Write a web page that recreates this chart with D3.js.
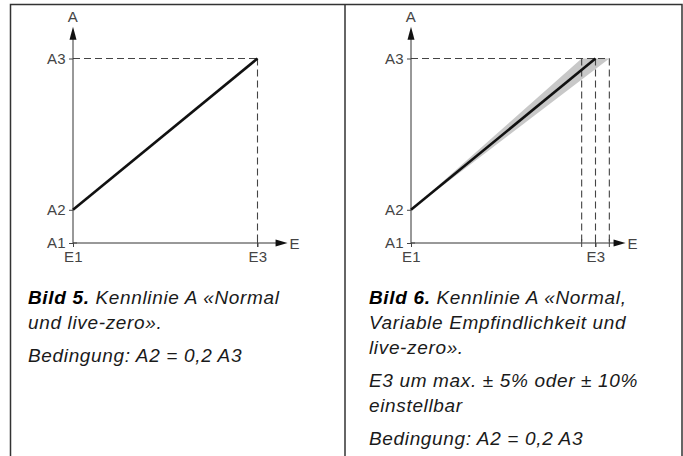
<!DOCTYPE html>
<html><head><meta charset="utf-8">
<script src="https://cdn.jsdelivr.net/npm/d3@7"></script>
<style>
html,body{margin:0;padding:0;background:#fff;}
svg{display:block;}
</style></head>
<body>
<svg id="chart" width="683" height="456"></svg>
<script>
// ---- data ----
const yTickLabels = ["A1", "A2", "A3"];
const yTickValues = [0, 0.18, 1];
const xTickLabels = ["E1", "E3"];
const xTickValues = [0, 1];
const lineX = [0, 1];
const lineY = [0.18, 1];
const e3Variants = [0.925, 1, 1.075];
const bandTop = [0.925, 1.075];
const captions1 = [
  [{b:"Bild 5.", t:" Kennlinie A «Normal"}, {t:"und live-zero»."}],
  [{t:"Bedingung: A2 = 0,2 A3"}]
];
const captions2 = [
  [{b:"Bild 6.", t:" Kennlinie A «Normal,"}, {t:"Variable Empfindlichkeit und"}, {t:"live-zero»."}],
  [{t:"E3 um max. ± 5% oder ± 10%"}, {t:"einstellbar"}],
  [{t:"Bedingung: A2 = 0,2 A3"}]
];

const svg = d3.select("#chart");
const font = "'Liberation Sans', Arial, Helvetica, sans-serif";

// frame
const frame = svg.append("g").attr("fill","none").attr("stroke","#333").attr("stroke-width",1.5);
frame.append("path").attr("d","M10.5,456 V4.5 H682 V456");
frame.append("path").attr("d","M345,4.5 V456");

function panel(x0, variable, caps, capX) {
  const x = d3.scaleLinear().domain([0, 1]).range([x0, x0 + 184.5]);
  const y = d3.scaleLinear().domain([0, 1]).range([243, 58.5]);
  const g = svg.append("g");
  const xEnd = x(1.163), yEnd = y(1.172);

  // band
  if (variable) {
    const area = [[0, lineY[0]], [bandTop[0], 1], [bandTop[1], 1]];
    g.append("path")
      .attr("d", d3.line().x(d => x(d[0])).y(d => y(d[1]))(area) + "Z")
      .attr("fill", "#c8c8c8");
  }
  // dashed guides
  const xs = variable ? e3Variants : [1];
  const dash = g.append("g").attr("stroke","#444").attr("stroke-width",1.1).attr("stroke-dasharray","7,4").attr("fill","none");
  dash.append("line").attr("x1", x(0)).attr("x2", x(d3.max(xs))).attr("y1", y(1)).attr("y2", y(1));
  xs.forEach(v => dash.append("line").attr("x1", x(v)).attr("x2", x(v)).attr("y1", y(1)).attr("y2", y(0)));

  // axes lines
  g.append("line").attr("x1", x(0)).attr("x2", xEnd - 8).attr("y1", y(0)).attr("y2", y(0)).attr("stroke","#333").attr("stroke-width",1);
  g.append("line").attr("x1", x(0)).attr("x2", x(0)).attr("y1", y(0)).attr("y2", yEnd + 8).attr("stroke","#333").attr("stroke-width",1);
  g.append("path").attr("d", `M${xEnd},${y(0)} L${xEnd-12},${y(0)-3.5} L${xEnd-12},${y(0)+3.5}Z`).attr("fill","#111");
  g.append("path").attr("d", `M${x(0)},${yEnd} L${x(0)-3.5},${yEnd+13} L${x(0)+3.5},${yEnd+13}Z`).attr("fill","#111");

  const lab = sel => sel.attr("font-family", font).attr("font-size", 15).attr("letter-spacing", 0.3).attr("fill","#444");

  // y axis ticks
  const ya = d3.axisLeft(y).tickValues(yTickValues).tickFormat((d,i) => yTickLabels[i]).tickSize(4).tickPadding(3);
  const yg = g.append("g").attr("transform", `translate(${x(0)},0)`).call(ya);
  yg.select(".domain").remove();
  lab(yg.selectAll("text"));
  yg.selectAll("line").attr("stroke","#444");

  // x axis ticks
  const xa = d3.axisBottom(x).tickValues(xTickValues).tickFormat((d,i) => xTickLabels[i]).tickSize(4).tickPadding(4);
  const xg = g.append("g").attr("transform", `translate(0,${y(0)})`).call(xa);
  xg.select(".domain").remove();
  lab(xg.selectAll("text"));
  xg.selectAll("line").attr("stroke","#444");
  // small cross ticks at E3 variants
  xs.forEach(v => g.append("line").attr("x1", x(v)).attr("x2", x(v)).attr("y1", y(0) - 4).attr("y2", y(0) + 4).attr("stroke","#444"));
  g.append("line").attr("x1", x(0)).attr("x2", x(0) + 4).attr("y1", y(0)).attr("y2", y(0)).attr("stroke","#444");

  // axis names
  lab(g.append("text").attr("x", x(0)).attr("y", yEnd - 5).attr("text-anchor","middle").text("A"));
  lab(g.append("text").attr("x", xEnd + 2).attr("y", y(0) + 5.5).text("E"));

  // main line
  g.append("path").attr("d", d3.line().x((d,i) => x(lineX[i])).y(d => y(d))(lineY))
    .attr("stroke","#111").attr("stroke-width",2.6).attr("fill","none");

  // captions
  let yy = 304;
  caps.forEach((para, pi) => {
    para.forEach(line => {
      const t = g.append("text").attr("x", capX).attr("y", yy).attr("font-family", font).attr("font-size", 19)
        .attr("letter-spacing", 0.65).attr("font-style","italic").attr("fill","#1a1a1a");
      if (line.b) t.append("tspan").attr("font-weight","bold").attr("fill","#000").text(line.b);
      t.append("tspan").text(line.t);
      yy += 25;
    });
    yy += 8;
  });
}

panel(73, false, captions1, 28);
panel(411, true, captions2, 369);
</script>
</body></html>
